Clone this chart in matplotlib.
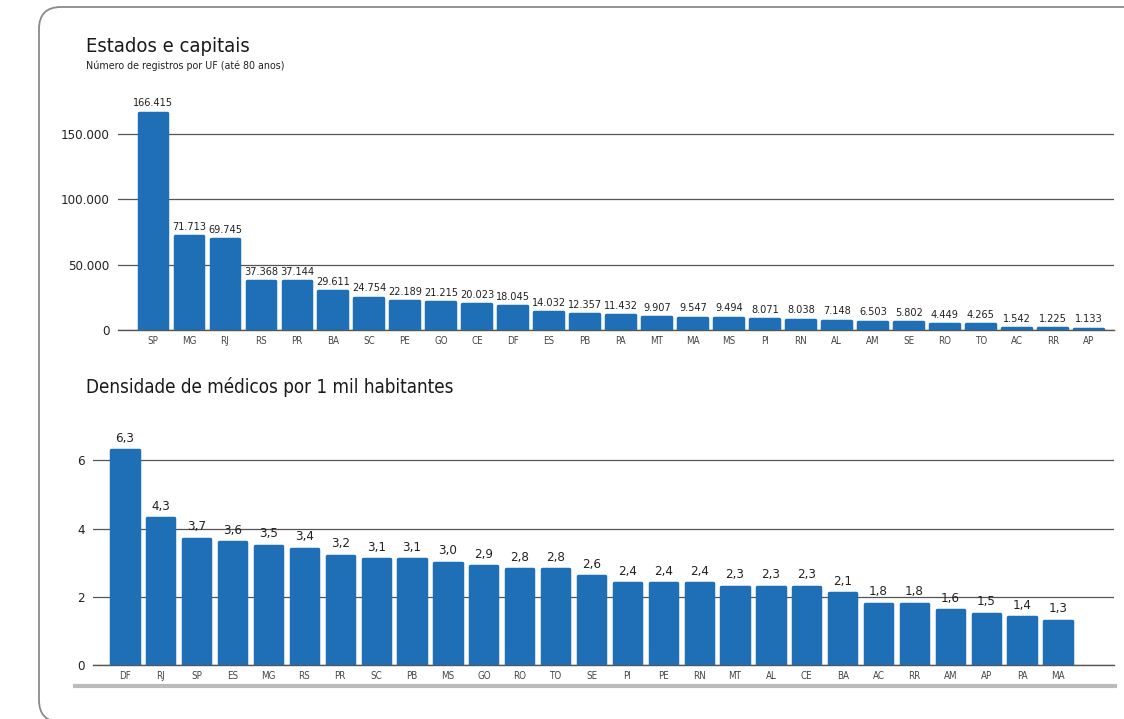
import numpy as np
import matplotlib
matplotlib.use("Agg")
import matplotlib.pyplot as plt
from matplotlib.patches import FancyBboxPatch
from matplotlib.lines import Line2D
from matplotlib.transforms import IdentityTransform
from matplotlib.ticker import FuncFormatter

plt.rcParams['font.family'] = ['DejaVu Sans']
plt.rcParams['font.stretch'] = 'condensed'

# dados: registros por UF
ufs_reg = ['SP', 'MG', 'RJ', 'RS', 'PR', 'BA', 'SC', 'PE', 'GO', 'CE', 'DF', 'ES', 'PB', 'PA',
           'MT', 'MA', 'MS', 'PI', 'RN', 'AL', 'AM', 'SE', 'RO', 'TO', 'AC', 'RR', 'AP']
registros = [166415, 71713, 69745, 37368, 37144, 29611, 24754, 22189, 21215, 20023, 18045, 14032,
             12357, 11432, 9907, 9547, 9494, 8071, 8038, 7148, 6503, 5802, 4449, 4265, 1542, 1225, 1133]
yticks_reg = [0, 50000, 100000, 150000]

# dados: densidade de médicos por 1 mil habitantes
ufs_dens = ['DF', 'RJ', 'SP', 'ES', 'MG', 'RS', 'PR', 'SC', 'PB', 'MS', 'GO', 'RO', 'TO', 'SE',
            'PI', 'PE', 'RN', 'MT', 'AL', 'CE', 'BA', 'AC', 'RR', 'AM', 'AP', 'PA', 'MA']
densidade = [6.3, 4.3, 3.7, 3.6, 3.5, 3.4, 3.2, 3.1, 3.1, 3.0, 2.9, 2.8, 2.8, 2.6,
             2.4, 2.4, 2.4, 2.3, 2.3, 2.3, 2.1, 1.8, 1.8, 1.6, 1.5, 1.4, 1.3]
yticks_dens = [0, 2, 4, 6]

azul = '#1f6fb7'
W, H = 1124, 719

fig = plt.figure(figsize=(W / 100, H / 100), dpi=100)

# moldura arredondada (em pixels)
frame = FancyBboxPatch((39, -3), 1200, 715, boxstyle="round,pad=0,rounding_size=22",
                       transform=IdentityTransform(), facecolor='none', edgecolor='#8a8a8a',
                       linewidth=1.3, zorder=-1)
fig.patches.append(frame)


def estilo(ax, yticks, fmt):
    ax.set_yticks(yticks)
    ax.yaxis.set_major_formatter(FuncFormatter(fmt))
    ax.grid(axis='y', color='#555555', linewidth=0.9)
    ax.set_axisbelow(True)
    for s in ax.spines.values():
        s.set_visible(False)
    # linha do zero
    ax.spines['bottom'].set_visible(True)
    ax.spines['bottom'].set_color('#555555')
    ax.spines['bottom'].set_linewidth(1.0)
    ax.tick_params(axis='y', length=0, pad=6, labelsize=9.5, labelcolor='#222222')
    ax.tick_params(axis='x', length=0, pad=4, labelsize=7, labelcolor='#444444')
    ax.patch.set_alpha(0)


# gráfico 1
ax1 = fig.add_axes([118 / W, 1 - 330 / H, (1114 - 118) / W, 228.6 / H])
x1 = np.arange(len(ufs_reg))
ax1.bar(x1, registros, width=0.8, color=azul, edgecolor=azul, linewidth=2.5,
        joinstyle='round', zorder=3)
ax1.set_xticks(x1)
ax1.set_xticklabels(ufs_reg)
ax1.set_xlim(-0.97, 26.7)
ax1.set_ylim(0, 175000)
estilo(ax1, yticks_reg, lambda v, p: f"{int(v):,}".replace(',', '.'))
for xi, v in zip(x1, registros):
    ax1.annotate(f"{v:,}".replace(',', '.'), (xi, v), xytext=(0, 3), textcoords='offset points',
                 ha='center', va='bottom', fontsize=7.8, color='#222222', clip_on=False)

fig.text(86 / W, 1 - 47 / H, 'Estados e capitais', fontsize=14.5, color='#1a1a1a', va='center')
fig.text(86 / W, 1 - 66 / H, 'Número de registros por UF (até 80 anos)', fontsize=7.7,
         color='#222222', va='center')

# gráfico 2
ax2 = fig.add_axes([93 / W, 1 - 665 / H, (1114 - 93) / W, 232 / H])
x2 = np.arange(len(ufs_dens))
ax2.bar(x2, densidade, width=0.76, color=azul, edgecolor=azul, linewidth=2.5,
        joinstyle='round', zorder=3)
ax2.set_xticks(x2)
ax2.set_xticklabels(ufs_dens)
ax2.set_xlim(-0.89, 27.56)
ax2.set_ylim(0, 6.8)
estilo(ax2, yticks_dens, lambda v, p: f"{int(v)}")
for xi, v in zip(x2, densidade):
    ax2.annotate(f"{v:.1f}".replace('.', ','), (xi, v), xytext=(0, 4), textcoords='offset points',
                 ha='center', va='bottom', fontsize=9.5, color='#222222', clip_on=False)

fig.text(86 / W, 1 - 387 / H, 'Densidade de médicos por 1 mil habitantes', fontsize=13.5,
         color='#1a1a1a', va='center')

# linha cinza inferior
fig.add_artist(Line2D([75 / W, 1115 / W], [1 - 686 / H, 1 - 686 / H], color='#bbbbbb',
                      linewidth=3, transform=fig.transFigure))

fig.savefig('out.png', dpi=100)
